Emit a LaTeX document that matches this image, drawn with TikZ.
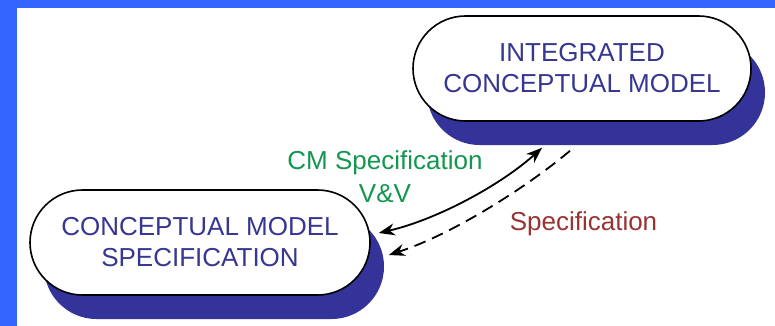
\documentclass[tikz,border=0pt]{standalone}
\usepackage{fontspec}
\setmainfont{Liberation Sans}
\usetikzlibrary{arrows.meta,shadows,shapes.misc,calc}
\definecolor{frameblue}{RGB}{51,102,255}
\definecolor{shadowblue}{RGB}{51,51,153}
\definecolor{nodetext}{RGB}{55,55,145}
\definecolor{vvgreen}{RGB}{20,150,80}
\definecolor{specred}{RGB}{153,51,51}
\begin{document}
\begin{tikzpicture}[x=1pt,y=-1pt,
  model/.style={rounded rectangle, draw=black, line width=1.6pt, fill=white,
    minimum height=105pt, inner sep=0pt, align=center, text=nodetext,
    font=\fontsize{26}{31}\selectfont,
    drop shadow={shadow xshift=14pt, shadow yshift=-24pt, fill=shadowblue, opacity=1}},
  lbl/.style={font=\fontsize{26}{33}\selectfont, inner sep=0pt, align=center},
  conn/.style={line width=1.8pt, black},
  head/.tip={Stealth[length=16pt,width=12pt,inset=5pt]},
]
\fill[white] (0,0) rectangle (775,326);
\fill[frameblue] (0,0) rectangle (775,8);
\fill[frameblue] (0,0) rectangle (17,326);
\useasboundingbox (0,0) rectangle (775,326);

\node[model, minimum width=338pt] (icm) at (582,68.5) {INTEGRATED\\CONCEPTUAL MODEL};
\node[model, minimum width=340pt] (cms) at (200,242.5) {CONCEPTUAL MODEL\\SPECIFICATION};

\coordinate (s1) at ($(cms.east)+(8,-9.5)$);
\coordinate (s2) at ($(icm.south)+(-40,26)$);
\coordinate (d1) at ($(icm.south)+(-12,29)$);
\coordinate (d2) at ($(cms.east)+(18,12.5)$);

\draw[conn, head-head] (s1) .. controls ($(s1)+(58.5,-13.5)$) and ($(s2)+(-41,37)$) .. (s2);
\draw[conn, dash pattern=on 12pt off 7pt, -head] (d1) .. controls ($(d1)+(-46,38.6)$) and ($(d2)+(61.8,-20.1)$) .. (d2);

\node[lbl, text=vvgreen] (vv) at (385,176.5) {CM Specification\\V\&V};
\node[lbl, text=specred, anchor=base] (spec) at (583.5,230) {Specification};
\end{tikzpicture}
\end{document}
